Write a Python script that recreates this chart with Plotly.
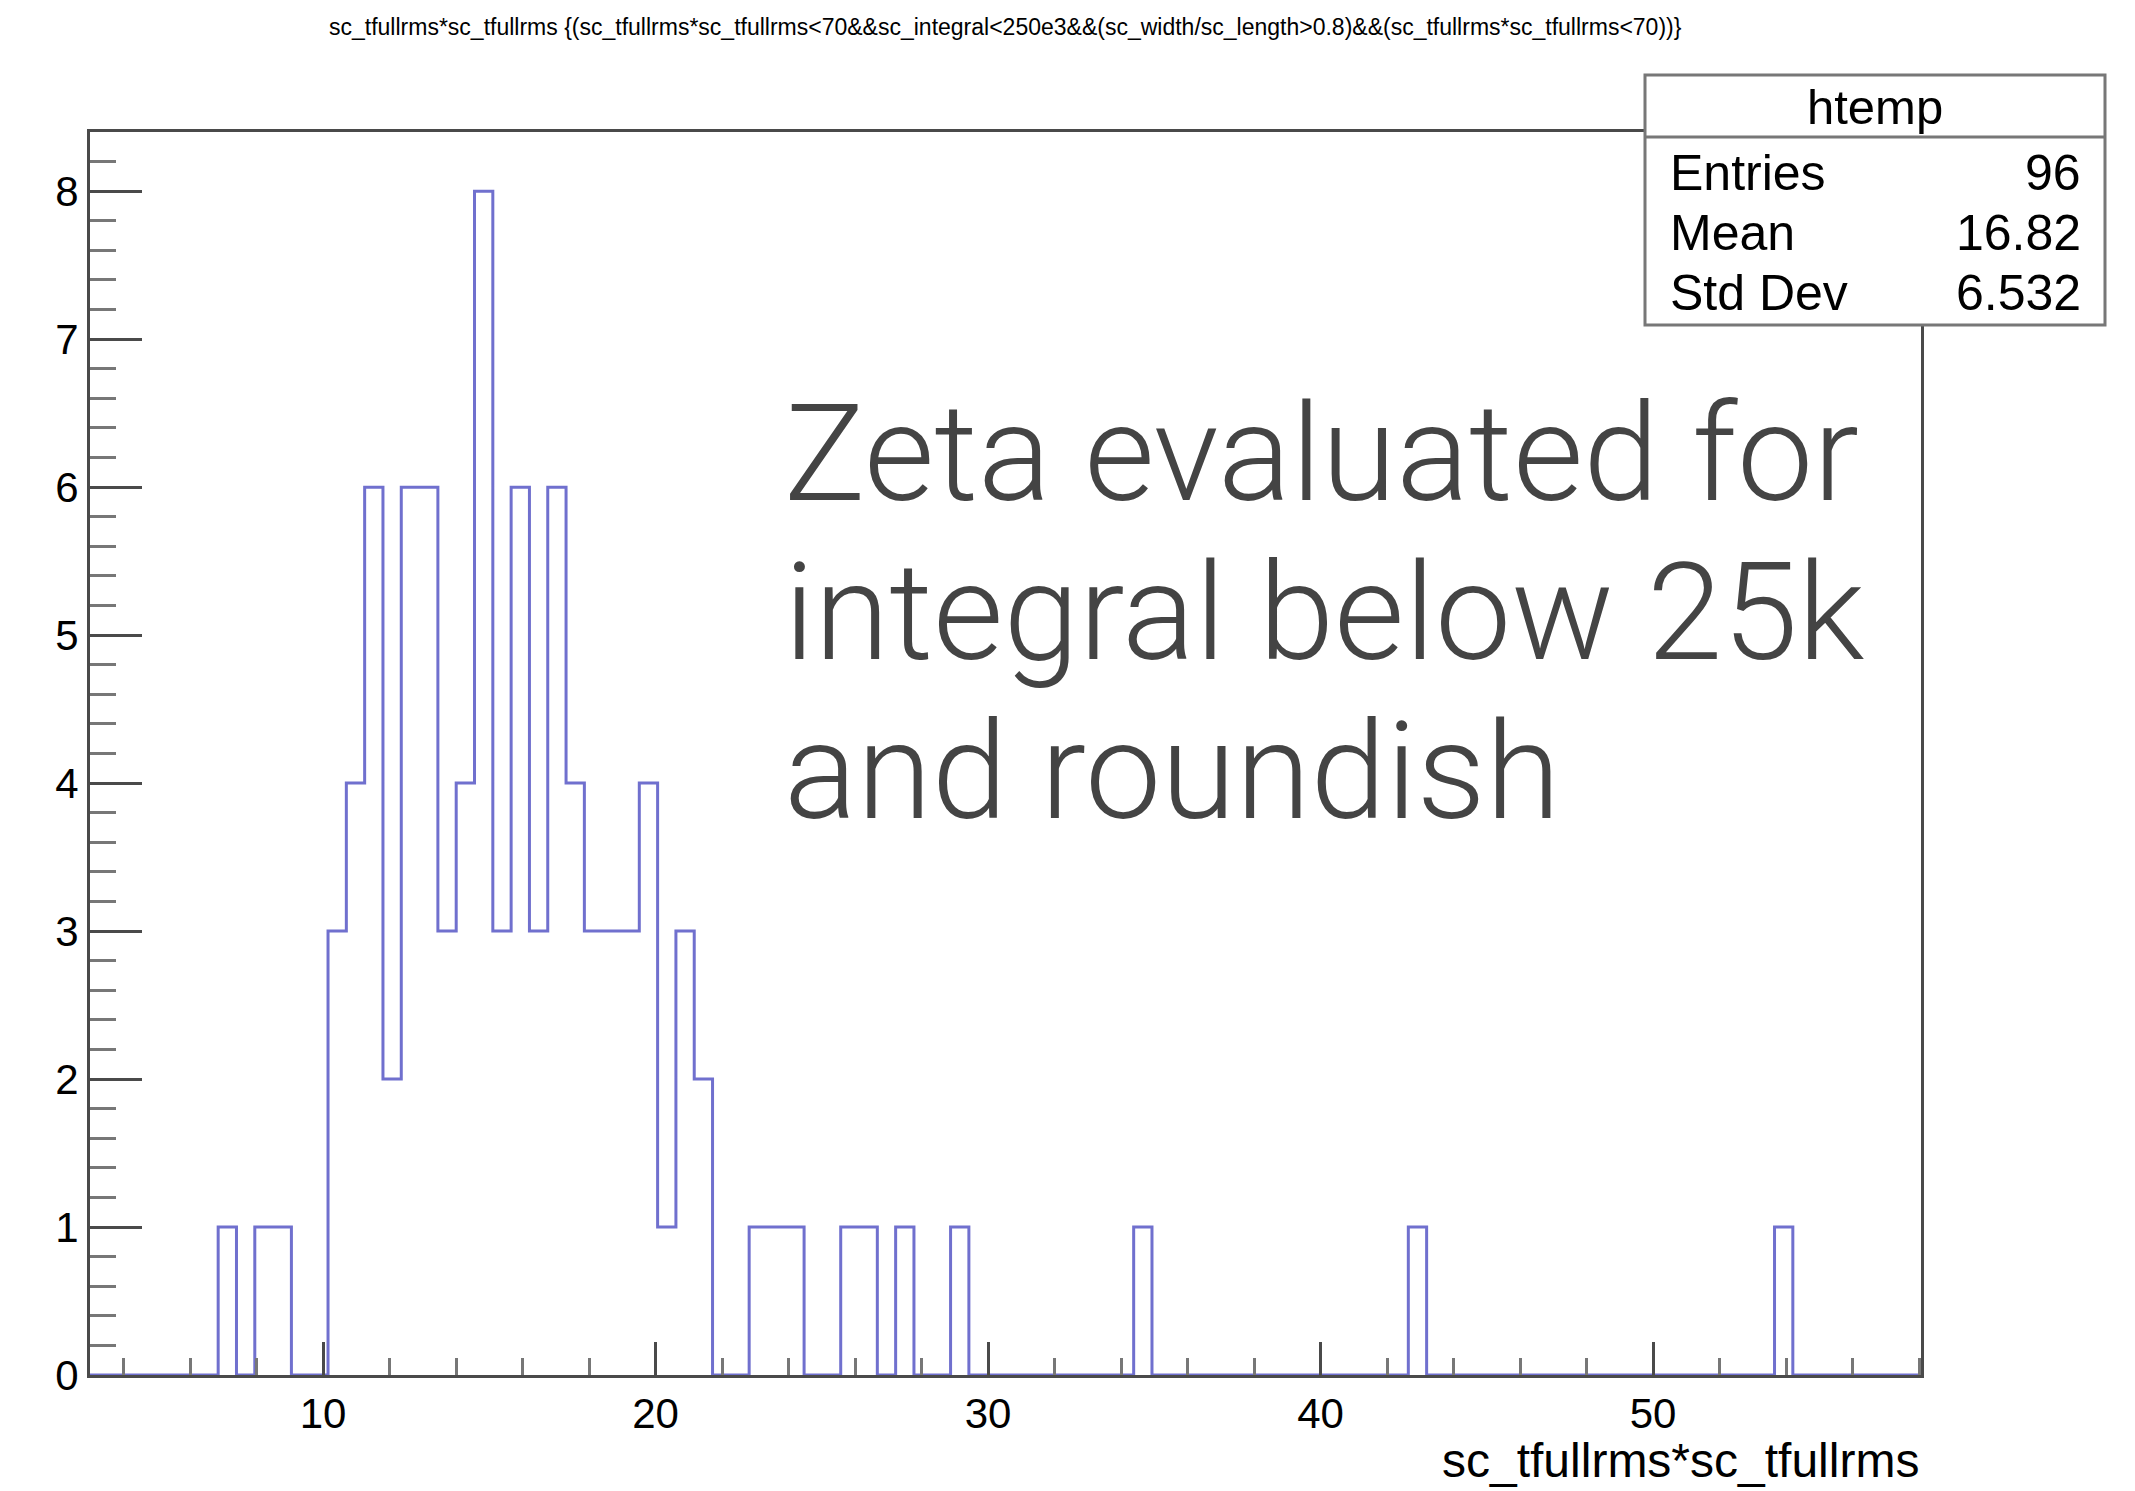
import numpy as np
import plotly.graph_objects as go

# ---- data ----
x_min = 2.99
x_max = 58.06
n_bins = 100
counts = [
    0, 0, 0, 0, 0, 0, 0, 1, 0, 1,
    1, 0, 0, 3, 4, 6, 2, 6, 6, 3,
    4, 8, 3, 6, 3, 6, 4, 3, 3, 3,
    4, 1, 3, 2, 0, 0, 1, 1, 1, 0,
    0, 1, 1, 0, 1, 0, 0, 1, 0, 0,
    0, 0, 0, 0, 0, 0, 0, 1, 0, 0,
    0, 0, 0, 0, 0, 0, 0, 0, 0, 0,
    0, 0, 1, 0, 0, 0, 0, 0, 0, 0,
    0, 0, 0, 0, 0, 0, 0, 0, 0, 0,
    0, 0, 1, 0, 0, 0, 0, 0, 0, 0,
]
y_max = 8.4
title_text = ("sc_tfullrms*sc_tfullrms {(sc_tfullrms*sc_tfullrms<70&&sc_integral<250e3"
              "&&(sc_width/sc_length>0.8)&&(sc_tfullrms*sc_tfullrms<70))}")
x_title = "sc_tfullrms*sc_tfullrms"
stats_name = "htemp"
stats_labels = ["Entries", "Mean", "Std Dev"]
stats_values = ["96", "16.82", "6.532"]
overlay_lines = ["Zeta evaluated for", "integral below 25k", "and roundish"]

# ---- figure geometry ----
W, H = 2135, 1491
ML, MR, MT, MB = 90, 214, 132, 116
PW = W - ML - MR
PH = H - MT - MB


def px(xp):
    return (xp - ML) / PW


def py(yp):
    return (H - MB - yp) / PH


edges = np.linspace(x_min, x_max, n_bins + 1)
ys = list(counts) + [counts[-1]]

fig = go.Figure()
fig.add_trace(go.Scatter(
    x=edges, y=ys, mode="lines", line_shape="hv",
    line=dict(color="rgb(112,112,206)", width=3),
    hoverinfo="skip", showlegend=False,
))

ROOT_FONT = "Liberation Sans, Arial, Helvetica, sans-serif"
axis_col = "#4a4a4a"

fig.update_layout(
    width=W, height=H,
    margin=dict(l=ML, r=MR, t=MT, b=MB, pad=0),
    paper_bgcolor="white", plot_bgcolor="white",
    showlegend=False,
    xaxis=dict(
        range=[x_min, x_max], showgrid=False, zeroline=False,
        showline=True, mirror=True, linecolor=axis_col, linewidth=3,
        ticks="inside", tick0=0, dtick=10, ticklen=33, tickwidth=2.5, tickcolor=axis_col,
        minor=dict(ticks="inside", dtick=2, ticklen=17, tickwidth=2.5, tickcolor="#777"),
        tickfont=dict(family=ROOT_FONT, size=42, color="black"),
    ),
    yaxis=dict(
        range=[0, y_max], showgrid=False, zeroline=False,
        showline=True, mirror=True, linecolor=axis_col, linewidth=3,
        ticks="inside", tick0=0, dtick=1, ticklen=52, tickwidth=2.5, tickcolor=axis_col,
        minor=dict(ticks="inside", dtick=0.2, ticklen=26, tickwidth=2.5, tickcolor="#777"),
        tickfont=dict(family=ROOT_FONT, size=42, color="black"),
    ),
)

annotations = []
# top title
annotations.append(dict(
    text=title_text, xref="paper", yref="paper", x=px(1005), y=py(27),
    xanchor="center", yanchor="middle", showarrow=False,
    font=dict(family=ROOT_FONT, size=23, color="black"),
))
# x axis title
annotations.append(dict(
    text=x_title, xref="paper", yref="paper", x=1.0, y=py(1489),
    xanchor="right", yanchor="bottom", showarrow=False,
    font=dict(family=ROOT_FONT, size=48, color="black"),
))
# overlay text
for line, yb in zip(overlay_lines, [454, 612, 771]):
    annotations.append(dict(
        text=line, xref="paper", yref="paper", x=px(782), y=py(yb),
        xanchor="left", yanchor="middle", showarrow=False,
        font=dict(family="Roboto, Helvetica Neue, sans-serif", size=136,
                  color="#444444", weight=300),
    ))

# stats box
bx0, bx1, by0, by1, bdiv = 1645, 2105, 75, 325, 137
shapes = [
    dict(type="rect", xref="paper", yref="paper",
         x0=px(bx0), x1=px(bx1), y0=py(by1), y1=py(by0),
         fillcolor="white", line=dict(color="#777777", width=3), layer="above"),
    dict(type="line", xref="paper", yref="paper",
         x0=px(bx0), x1=px(bx1), y0=py(bdiv), y1=py(bdiv),
         line=dict(color="#777777", width=3), layer="above"),
]
annotations.append(dict(
    text=stats_name, xref="paper", yref="paper", x=px((bx0 + bx1) / 2), y=py(107),
    xanchor="center", yanchor="middle", showarrow=False,
    font=dict(family=ROOT_FONT, size=49, color="black"),
))
for lab, val, yc in zip(stats_labels, stats_values, [173, 233, 293]):
    annotations.append(dict(
        text=lab, xref="paper", yref="paper", x=px(1668), y=py(yc),
        xanchor="left", yanchor="middle", showarrow=False,
        font=dict(family=ROOT_FONT, size=50, color="black"),
    ))
    annotations.append(dict(
        text=val, xref="paper", yref="paper", x=px(2083), y=py(yc),
        xanchor="right", yanchor="middle", showarrow=False,
        font=dict(family=ROOT_FONT, size=50, color="black"),
    ))

fig.update_layout(annotations=annotations, shapes=shapes)
fig.write_html("out.html")
